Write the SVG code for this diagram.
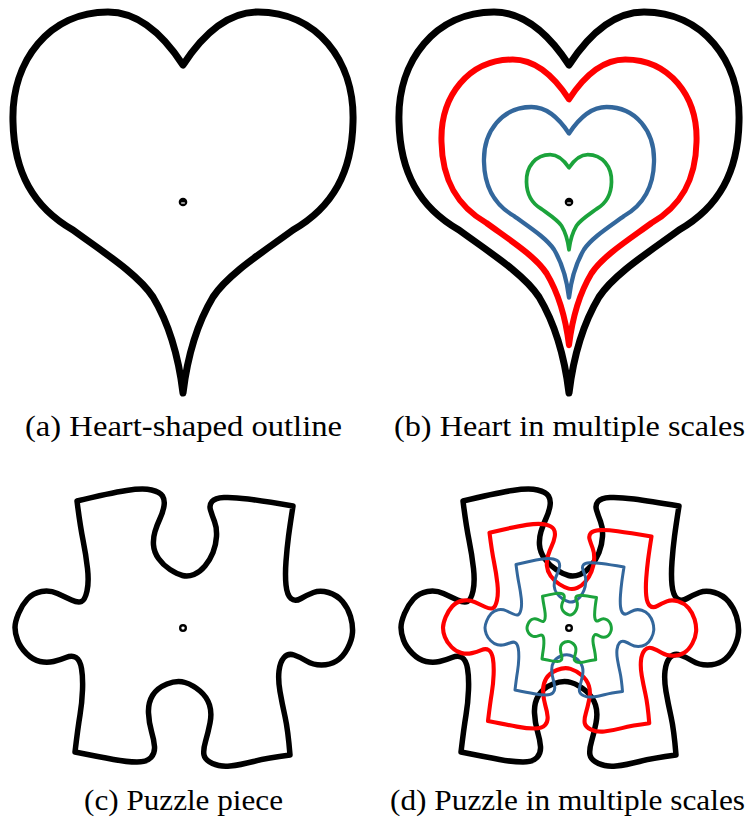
<svg xmlns="http://www.w3.org/2000/svg" xmlns:xlink="http://www.w3.org/1999/xlink" width="747" height="821" viewBox="0 0 747 821">
<style>
.shape{fill:none;stroke-linejoin:round;stroke-linecap:round}
.k{stroke:#000}
.r{stroke:#ff0000}
.b{stroke:#33679c}
.g{stroke:#1ba33b}
.cap{font-family:"Liberation Serif","Times New Roman",serif;font-size:29px;fill:#000}
</style>
<defs>
<path id="heart" d="M0,-137 C-15,-160 -40,-190 -75,-190 C-133,-190 -172,-142 -170,-80 C-169,-30 -150,5 -110,28 C-80,50 -45,72 -30,95 C-15,120 -5,150 0,191 C5,150 15,120 30,95 C45,72 80,50 110,28 C150,5 169,-30 170,-80 C172,-142 133,-190 75,-190 C40,-190 15,-160 0,-137 Z"/>
<path id="puzzle" d="M-106,-127 Q-73,-135 -56.5,-137.5 Q-40,-140 -31.5,-138 Q-23,-136 -20.5,-132 Q-18,-128 -19,-122 Q-20,-116 -23,-109.5 Q-26,-103 -28,-96.5 Q-30,-90 -29.5,-83 Q-29,-76 -24.5,-69.5 Q-20,-63 -13,-58.5 Q-6,-54 -0.5,-52.5 Q5,-51 11,-53.5 Q17,-56 22,-62 Q27,-68 30,-75.5 Q33,-83 33.5,-91.5 Q34,-100 31.5,-106.5 Q29,-113 27.5,-118 Q26,-123 29,-126.5 Q32,-130 41,-130.5 Q50,-131 65,-129 Q80,-127 110,-122 Q107,-103 105.5,-91.5 Q104,-80 103,-66.5 Q102,-53 103,-43 Q104,-33 108,-29.5 Q112,-26 118,-29.5 Q124,-33 130.5,-35.5 Q137,-38 145.5,-35.5 Q154,-33 159.5,-26.5 Q165,-20 167.5,-11.5 Q170,-3 169.5,4.5 Q169,12 164.5,20.5 Q160,29 153.5,33 Q147,37 138.5,37 Q130,37 123.5,33 Q117,29 111,27 Q105,25 101,29.5 Q97,34 96,43 Q95,52 97,63.5 Q99,75 102,88.5 Q105,102 107,127 Q84,130 70.5,133.5 Q57,137 47,138 Q37,139 29.5,135.5 Q22,132 21,127 Q20,122 22.5,113.5 Q25,105 27,95 Q29,85 26.5,77 Q24,69 17,63 Q10,57 2,54.5 Q-6,52 -16,56 Q-26,60 -30.5,67.5 Q-35,75 -34.5,85 Q-34,95 -31.5,103.5 Q-29,112 -28.5,118.5 Q-28,125 -32,129.5 Q-36,134 -46,134 Q-56,134 -69.5,131.5 Q-83,129 -108,124 Q-105,99 -103,87 Q-101,75 -100.5,62 Q-100,49 -101.5,40.5 Q-103,32 -107,29.5 Q-111,27 -117,29.5 Q-123,32 -129.5,33.5 Q-136,35 -143,33.5 Q-150,32 -156.5,25.5 Q-163,19 -165.5,12 Q-168,5 -168,-0.5 Q-168,-6 -164.5,-14.5 Q-161,-23 -155.5,-29 Q-150,-35 -141.5,-36.5 Q-133,-38 -125.5,-34.5 Q-118,-31 -111.5,-28 Q-105,-25 -101.5,-26.5 Q-98,-28 -96,-37 Q-94,-46 -95.5,-59.5 Q-97,-73 -100,-88 Q-103,-103 -106,-127 Z"/>
<g id="hdot"><circle r="4.3" fill="#000"/><line x1="-1.8" y1="1" x2="1.8" y2="1" stroke="#fff" stroke-width="1.2"/></g>
<circle id="pdot" r="2.8" fill="#fff" stroke="#000" stroke-width="2.4"/>
</defs>

<g id="panel-a">
<g id="heart-a" transform="translate(183,202)">
<use xlink:href="#heart" href="#heart" class="shape k" stroke-width="7"/>
<use xlink:href="#hdot" href="#hdot"/>
</g>
<text class="cap" x="25" y="436" textLength="317" lengthAdjust="spacingAndGlyphs">(a) Heart-shaped outline</text>
</g>

<g id="panel-b">
<g id="hearts-b" transform="translate(569,202)">
<use xlink:href="#heart" href="#heart" class="shape k" stroke-width="7"/>
<use xlink:href="#heart" href="#heart" class="shape r" transform="scale(0.75)" stroke-width="8"/>
<use xlink:href="#heart" href="#heart" class="shape b" transform="scale(0.5)" stroke-width="8.6"/>
<use xlink:href="#heart" href="#heart" class="shape g" transform="scale(0.25)" stroke-width="15"/>
<use xlink:href="#hdot" href="#hdot"/>
</g>
<text class="cap" x="394" y="436" textLength="351" lengthAdjust="spacingAndGlyphs">(b) Heart in multiple scales</text>
</g>

<g id="panel-c">
<g id="puzzle-c" transform="translate(183,628)">
<use xlink:href="#puzzle" href="#puzzle" class="shape k" stroke-width="5.5"/>
<use xlink:href="#pdot" href="#pdot"/>
</g>
<text class="cap" x="84" y="810" textLength="199" lengthAdjust="spacingAndGlyphs">(c) Puzzle piece</text>
</g>

<g id="panel-d">
<g id="puzzles-d" transform="translate(569,628)">
<use xlink:href="#puzzle" href="#puzzle" class="shape k" stroke-width="5.5"/>
<use xlink:href="#puzzle" href="#puzzle" class="shape r" transform="scale(0.75)" stroke-width="5.5"/>
<use xlink:href="#puzzle" href="#puzzle" class="shape b" transform="scale(0.5)" stroke-width="6"/>
<use xlink:href="#puzzle" href="#puzzle" class="shape g" transform="scale(0.25)" stroke-width="12"/>
<use xlink:href="#pdot" href="#pdot"/>
</g>
<text class="cap" x="390" y="810" textLength="355" lengthAdjust="spacingAndGlyphs">(d) Puzzle in multiple scales</text>
</g>
</svg>
